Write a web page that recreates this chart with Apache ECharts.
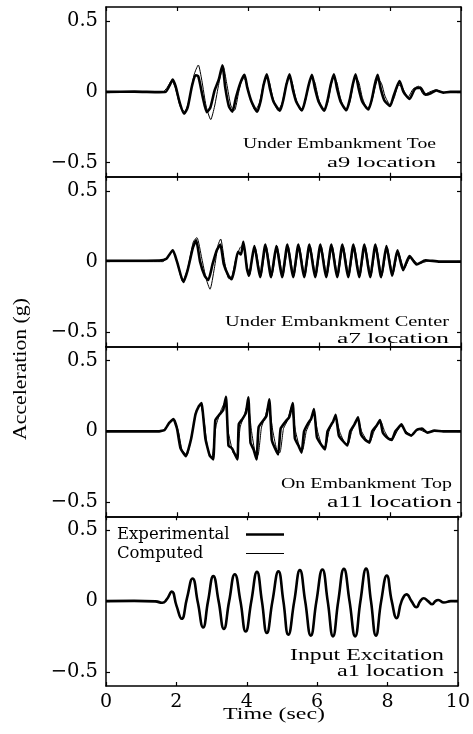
<!DOCTYPE html>
<html>
<head>
<meta charset="utf-8">
<script src="https://cdn.jsdelivr.net/npm/echarts@6/dist/echarts.min.js"></script>
<style>
  html, body { margin: 0; padding: 0; background: #fff; }
  #chart { width: 473px; height: 734px; }
</style>
</head>
<body>
<div id="chart"></div>
<script>
// Acceleration records, [time (s), acceleration (g)]

// a9 – under embankment toe
const a9Exp = [[0,0],[0.8,0.002],[1.5,-0.002],[1.68,0],[1.8,0.05],[1.88,0.088],[1.96,0.04],[2.08,-0.08],[2.2,-0.155],[2.3,-0.11],[2.42,0.04],[2.52,0.117],[2.6,0.11],[2.72,-0.03],[2.84,-0.143],[2.94,-0.11],[3.06,0.01],[3.18,0.09],[3.28,0.188],[3.36,0.03],[3.46,-0.1],[3.56,-0.14],[3.66,-0.04],[3.78,0.06],[3.9,0.12],[3.98,0.03],[4.1,-0.07],[4.26,-0.14],[4.36,-0.06],[4.44,0.05],[4.53,0.124],[4.62,0.02],[4.72,-0.07],[4.9,-0.133],[5.0,-0.05],[5.08,0.05],[5.17,0.124],[5.26,0.02],[5.36,-0.07],[5.52,-0.132],[5.62,-0.05],[5.71,0.05],[5.8,0.12],[5.89,0.02],[5.99,-0.07],[6.15,-0.133],[6.25,-0.05],[6.33,0.05],[6.42,0.124],[6.51,0.02],[6.61,-0.07],[6.77,-0.13],[6.87,-0.05],[6.95,0.05],[7.03,0.124],[7.12,0.02],[7.22,-0.07],[7.39,-0.125],[7.49,-0.05],[7.57,0.05],[7.65,0.12],[7.74,0.02],[7.84,-0.06],[8.0,-0.1],[8.1,-0.03],[8.2,0.04],[8.27,0.077],[8.38,0.0],[8.55,-0.05],[8.7,0.02],[8.85,0.03],[9.0,-0.02],[9.15,-0.01],[9.3,0.01],[9.5,-0.005],[9.7,0],[10,0]];
const a9Cmp = [[0,0],[1.6,0],[1.72,0.03],[1.85,0.08],[1.95,0.03],[2.1,-0.11],[2.22,-0.14],[2.34,-0.06],[2.48,0.12],[2.6,0.19],[2.7,0.08],[2.82,-0.1],[2.95,-0.196],[3.06,-0.1],[3.18,0.06],[3.3,0.185],[3.4,0.06],[3.52,-0.1],[3.62,-0.13],[3.74,0.0],[3.86,0.1],[3.94,0.08],[4.06,-0.04],[4.2,-0.13],[4.32,-0.08],[4.44,0.06],[4.5,0.1],[4.6,0.07],[4.7,-0.04],[4.84,-0.13],[4.96,-0.08],[5.08,0.06],[5.14,0.1],[5.24,0.07],[5.34,-0.04],[5.48,-0.13],[5.6,-0.08],[5.72,0.06],[5.78,0.1],[5.88,0.07],[5.98,-0.04],[6.12,-0.13],[6.24,-0.08],[6.35,0.06],[6.41,0.1],[6.5,0.07],[6.6,-0.04],[6.74,-0.13],[6.86,-0.08],[6.97,0.06],[7.02,0.1],[7.12,0.07],[7.22,-0.04],[7.36,-0.12],[7.48,-0.07],[7.6,0.05],[7.66,0.09],[7.76,0.06],[7.86,-0.03],[8.0,-0.09],[8.12,-0.04],[8.24,0.05],[8.35,0.03],[8.5,-0.04],[8.65,0.02],[8.8,0.04],[8.95,-0.02],[9.12,0.0],[9.3,0.015],[9.5,-0.005],[9.75,0.002],[10,0]];

// a7 – under embankment center
const a7Exp = [[0,0.006],[1.5,0.008],[1.7,0.02],[1.88,0.08],[2.0,0.0],[2.18,-0.144],[2.3,-0.06],[2.45,0.1],[2.54,0.15],[2.65,0.0],[2.78,-0.1],[2.88,-0.13],[3.0,-0.02],[3.12,0.08],[3.22,0.12],[3.32,-0.02],[3.45,-0.1],[3.54,-0.125],[3.62,-0.05],[3.72,0.07],[3.8,0.05],[3.87,0.14],[3.97,-0.05],[4.03,-0.1],[4.1,0.0],[4.18,0.11],[4.34,-0.11],[4.49,0.12],[4.65,-0.11],[4.8,0.11],[4.96,-0.11],[5.11,0.12],[5.27,-0.11],[5.42,0.12],[5.58,-0.11],[5.73,0.12],[5.89,-0.11],[6.04,0.12],[6.2,-0.11],[6.35,0.12],[6.51,-0.11],[6.66,0.12],[6.82,-0.11],[6.97,0.12],[7.13,-0.11],[7.28,0.12],[7.44,-0.11],[7.59,0.12],[7.75,-0.11],[7.9,0.11],[8.06,-0.1],[8.21,0.08],[8.37,-0.06],[8.55,0.04],[8.75,-0.02],[9.0,0.01],[9.4,0],[10,0]];
const a7Cmp = [[0,0],[1.6,0],[1.72,0.03],[1.88,0.075],[2.0,0.0],[2.16,-0.14],[2.3,-0.05],[2.46,0.14],[2.56,0.17],[2.7,0.02],[2.82,-0.12],[2.93,-0.195],[3.05,-0.05],[3.16,0.12],[3.23,0.16],[3.34,0.0],[3.46,-0.12],[3.55,-0.1],[3.66,0.02],[3.78,0.1],[3.87,0.12],[3.98,-0.04],[4.05,-0.09],[4.12,0.02],[4.2,0.1],[4.36,-0.1],[4.51,0.11],[4.67,-0.1],[4.82,0.11],[4.98,-0.1],[5.13,0.11],[5.29,-0.1],[5.44,0.11],[5.6,-0.1],[5.75,0.11],[5.91,-0.1],[6.06,0.11],[6.22,-0.1],[6.37,0.11],[6.53,-0.1],[6.68,0.11],[6.84,-0.1],[6.99,0.11],[7.15,-0.1],[7.3,0.11],[7.46,-0.1],[7.61,0.11],[7.77,-0.1],[7.92,0.1],[8.08,-0.09],[8.23,0.07],[8.4,-0.05],[8.58,0.03],[8.8,-0.015],[9.1,0.005],[9.5,0],[10,0]];

// a11 – on embankment top
const a11Exp = [[0,0],[1.5,0],[1.65,0.01],[1.78,0.06],[1.9,0.087],[2.0,0.02],[2.1,-0.12],[2.25,-0.175],[2.4,-0.05],[2.52,0.12],[2.62,0.18],[2.69,0.2],[2.8,-0.05],[2.92,-0.17],[3.02,-0.198],[3.08,0.08],[3.2,0.12],[3.3,0.15],[3.38,0.245],[3.45,-0.1],[3.55,-0.12],[3.7,-0.198],[3.74,0.05],[3.85,0.09],[3.94,0.13],[4.01,0.241],[4.07,-0.08],[4.16,-0.13],[4.24,-0.198],[4.3,0.03],[4.44,0.08],[4.52,0.11],[4.6,0.227],[4.67,-0.06],[4.76,-0.12],[4.85,-0.163],[4.92,0.02],[5.06,0.07],[5.16,0.1],[5.26,0.2],[5.32,-0.05],[5.42,-0.1],[5.51,-0.15],[5.58,0.0],[5.7,0.06],[5.78,0.09],[5.86,0.157],[5.94,-0.04],[6.05,-0.09],[6.17,-0.128],[6.24,0.0],[6.35,0.05],[6.4,0.07],[6.47,0.117],[6.56,-0.03],[6.68,-0.07],[6.8,-0.1],[6.88,0.0],[7.0,0.05],[7.1,0.1],[7.18,-0.02],[7.3,-0.06],[7.42,-0.08],[7.5,0.0],[7.62,0.04],[7.72,0.08],[7.8,-0.01],[7.95,-0.05],[8.05,-0.06],[8.15,0.0],[8.25,0.03],[8.32,0.05],[8.45,-0.01],[8.6,-0.03],[8.75,0.01],[8.9,0.02],[9.05,-0.01],[9.25,0.005],[9.5,0],[10,0]];
const a11Cmp = [[0,0],[1.55,0],[1.68,0.02],[1.82,0.07],[1.92,0.08],[2.04,0.0],[2.14,-0.13],[2.28,-0.17],[2.42,-0.02],[2.55,0.15],[2.66,0.19],[2.76,0.08],[2.86,-0.12],[2.98,-0.19],[3.1,0.04],[3.24,0.15],[3.36,0.21],[3.44,0.0],[3.58,-0.15],[3.68,-0.18],[3.78,0.03],[3.9,0.12],[4.0,0.2],[4.1,0.0],[4.2,-0.15],[4.28,-0.17],[4.38,0.03],[4.48,0.1],[4.58,0.19],[4.7,0.0],[4.82,-0.14],[4.9,-0.15],[5.0,0.02],[5.12,0.08],[5.22,0.17],[5.34,0.0],[5.46,-0.12],[5.54,-0.13],[5.64,0.0],[5.76,0.07],[5.84,0.14],[5.96,0.0],[6.08,-0.1],[6.18,-0.11],[6.28,0.0],[6.38,0.06],[6.46,0.11],[6.58,0.0],[6.72,-0.08],[6.82,-0.09],[6.92,0.0],[7.02,0.06],[7.1,0.09],[7.2,0.0],[7.34,-0.06],[7.44,-0.07],[7.55,0.0],[7.66,0.05],[7.74,0.07],[7.85,0.0],[7.98,-0.05],[8.08,-0.05],[8.2,0.0],[8.3,0.04],[8.45,0.0],[8.6,-0.025],[8.8,0.015],[9.0,-0.005],[9.3,0],[10,0]];

// a1 – input excitation
const a1Exp = [[0,0],[0.8,0.002],[1.4,-0.002],[1.6,-0.012],[1.72,0.01],[1.87,0.067],[2.0,-0.03],[2.15,-0.125],[2.3,0.02],[2.46,0.16],[2.61,-0.01],[2.76,-0.186],[2.9,0.0],[3.05,0.177],[3.2,0.0],[3.35,-0.197],[3.5,0.0],[3.66,0.19],[3.82,0.0],[3.97,-0.215],[4.13,0.0],[4.29,0.207],[4.43,0.0],[4.57,-0.225],[4.73,0.0],[4.9,0.21],[5.04,0.0],[5.18,-0.237],[5.35,0.0],[5.51,0.219],[5.66,0.0],[5.82,-0.244],[5.98,0.0],[6.15,0.224],[6.3,0.0],[6.45,-0.249],[6.6,0.0],[6.76,0.228],[6.92,0.0],[7.08,-0.249],[7.23,0.0],[7.39,0.23],[7.53,0.0],[7.67,-0.244],[7.82,0.0],[7.98,0.18],[8.12,0.0],[8.26,-0.12],[8.4,0.0],[8.54,0.048],[8.68,0.0],[8.82,-0.043],[8.93,0.0],[9.03,0.02],[9.15,0.0],[9.27,-0.022],[9.36,0.0],[9.44,0.008],[9.6,-0.01],[9.8,0],[10,0]];
const a1Cmp = [[0,0],[1.5,0],[1.6,-0.01],[1.72,0.012],[1.87,0.065],[2.0,-0.03],[2.15,-0.122],[2.3,0.02],[2.46,0.158],[2.61,-0.01],[2.76,-0.183],[2.9,0.0],[3.05,0.175],[3.2,0.0],[3.35,-0.195],[3.5,0.0],[3.66,0.188],[3.82,0.0],[3.97,-0.212],[4.13,0.0],[4.29,0.205],[4.43,0.0],[4.57,-0.222],[4.73,0.0],[4.9,0.208],[5.04,0.0],[5.18,-0.234],[5.35,0.0],[5.51,0.217],[5.66,0.0],[5.82,-0.241],[5.98,0.0],[6.15,0.222],[6.3,0.0],[6.45,-0.246],[6.6,0.0],[6.76,0.226],[6.92,0.0],[7.08,-0.246],[7.23,0.0],[7.39,0.228],[7.53,0.0],[7.67,-0.241],[7.82,0.0],[7.98,0.178],[8.12,0.0],[8.26,-0.118],[8.4,0.0],[8.54,0.046],[8.68,0.0],[8.82,-0.041],[8.93,0.0],[9.03,0.019],[9.15,0.0],[9.27,-0.02],[9.36,0.0],[9.44,0.007],[9.6,-0.009],[9.8,0],[10,0]];

const panelRecords = [[a9Exp, a9Cmp], [a7Exp, a7Cmp], [a11Exp, a11Cmp], [a1Exp, a1Cmp]];
const panelTitles = [
  ['Under Embankment Toe', 'a9 location'],
  ['Under Embankment Center', 'a7 location'],
  ['On Embankment Top', 'a11 location'],
  ['Input Excitation', 'a1 location']
];
const seriesNames = ['Experimental', 'Computed'];
const timeTicks = [0, 2, 4, 6, 8, 10];
const accelTicks = [-0.5, 0, 0.5];
const xTitle = 'Time (sec)';
const yTitle = 'Acceleration (g)';

// ---- layout ----
const PLOT_LEFT = 106, PLOT_WIDTH = 355, PLOT_TOP = 7, PANEL_H = 169.75;
const SERIF = '"Liberation Serif", "Times New Roman", serif';
const TICK_FONT = '"DejaVu Serif", serif';
const axisLineStyle = { color: '#000', width: 1.5 };
const panelSmooth = [0.2, 0.2, 0.15, 0.5];

// placement of the caption lines inside each panel: right edge, baseline, size, width
const captionLayout = [
  [{ r: 436, b: 149, s: 14, w: 193 }, { r: 436, b: 168.3, s: 15.5, w: 109 }],
  [{ r: 449, b: 326.5, s: 14, w: 224 }, { r: 449, b: 344, s: 15.5, w: 112 }],
  [{ r: 452, b: 489, s: 14, w: 171 }, { r: 452, b: 507.7, s: 16, w: 125 }],
  [{ r: 444, b: 660.7, s: 16.5, w: 154 }, { r: 444, b: 677, s: 17, w: 107 }]
];

const measureCtx = document.createElement('canvas').getContext('2d');
function textWidth(text, size) {
  measureCtx.font = size + 'px ' + SERIF;
  return measureCtx.measureText(text).width;
}
function stretchedText(text, size, anchorX, baseline, targetW, align) {
  const sx = targetW / textWidth(text, size);
  return {
    type: 'text', x: anchorX, y: baseline - size * 0.32, scaleX: sx, z: 10,
    style: { text: text, font: size + 'px ' + SERIF, fill: '#000', align: align, verticalAlign: 'middle' }
  };
}
const fmtAccel = v => (v < 0 ? '\u2212' + Math.abs(v) : String(v));

const grids = [], xAxes = [], yAxes = [], series = [], graphics = [];
panelRecords.forEach((recs, i) => {
  const top = PLOT_TOP + i * PANEL_H;
  grids.push({ left: PLOT_LEFT, width: PLOT_WIDTH, top: top, height: PANEL_H, containLabel: false });
  const isLast = i === panelRecords.length - 1;
  ['bottom', 'top'].forEach(pos => {
    xAxes.push({
      gridIndex: i, type: 'value', position: pos, min: 0, max: 10, interval: 2,
      axisLine: { show: true, onZero: false, lineStyle: axisLineStyle },
      axisTick: { show: true, inside: true, length: 4, lineStyle: { color: '#000', width: 1.2 } },
      axisLabel: {
        show: pos === 'bottom' && isLast, margin: 7, color: '#000',
        fontFamily: TICK_FONT, fontSize: 19
      },
      splitLine: { show: false }
    });
  });
  ['left', 'right'].forEach(pos => {
    yAxes.push({
      gridIndex: i, type: 'value', position: pos, min: -0.6, max: 0.6,
      axisLine: { show: true, onZero: false, lineStyle: axisLineStyle },
      axisTick: { show: true, inside: true, length: 4, customValues: accelTicks, lineStyle: { color: '#000', width: 1.2 } },
      axisLabel: {
        show: pos === 'left', customValues: accelTicks, formatter: fmtAccel,
        margin: 8, color: '#000', fontFamily: TICK_FONT, fontSize: 19.5
      },
      splitLine: { show: false }
    });
  });
  recs.forEach((rec, k) => {
    series.push({
      name: seriesNames[k], type: 'line', data: rec,
      xAxisIndex: 2 * i, yAxisIndex: 2 * i,
      showSymbol: false, symbol: 'none', smooth: panelSmooth[i], animation: false,
      lineStyle: { color: '#000', width: k === 0 ? 2.6 : 1 },
      z: k === 0 ? 2 : 3
    });
  });
  panelTitles[i].forEach((t, j) => {
    const c = captionLayout[i][j];
    graphics.push(stretchedText(t, c.s, c.r, c.b, c.w, 'right'));
  });
});

// axis titles
graphics.push(stretchedText(xTitle, 16, 274, 720, 102, 'center'));
(function () {
  const size = 15, target = 142;
  const sx = target / textWidth(yTitle, size);
  graphics.push({
    type: 'text', x: 21, y: 369, rotation: Math.PI / 2, scaleX: sx, scaleY: 1.3, z: 10,
    style: { text: yTitle, font: size + 'px ' + SERIF, fill: '#000', align: 'center', verticalAlign: 'middle' }
  });
})();

const chart = echarts.init(document.getElementById('chart'), null, { renderer: 'canvas' });
chart.setOption({
  backgroundColor: '#fff',
  animation: false,
  grid: grids,
  xAxis: xAxes,
  yAxis: yAxes,
  series: series,
  legend: {
    data: [
      { name: 'Experimental', icon: 'path://M0,0H40V2.6H0Z' },
      { name: 'Computed', icon: 'path://M0,0H40V1H0Z' }
    ],
    orient: 'vertical', left: 112, top: 521, align: 'right', padding: [5, 5, 5, 5],
    itemWidth: 38, itemHeight: 14, itemGap: 2, selectedMode: false,
    itemStyle: { color: '#000', borderWidth: 0 },
    formatter: name => '{n|' + name + '}',
    textStyle: {
      color: '#000',
      rich: { n: { fontFamily: TICK_FONT, fontSize: 16.5, color: '#000', width: 124, align: 'left', lineHeight: 14 } }
    }
  },
  graphic: graphics
});
</script>
</body>
</html>
